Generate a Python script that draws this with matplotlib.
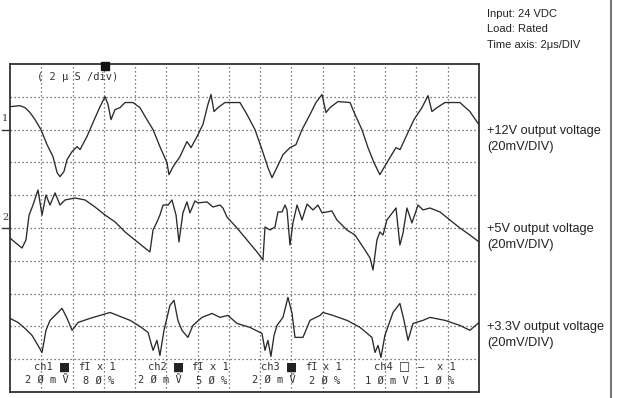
import matplotlib
matplotlib.use("Agg")
import matplotlib.pyplot as plt

# time in microseconds, ripple in mV relative to each channel marker
t_12v = [0, 0.64, 0.96, 1.28, 1.60, 1.98, 2.37, 2.75, 3.01, 3.20, 3.45, 3.65, 3.97, 4.29, 4.48, 4.92,
         5.31, 5.76, 6.08, 6.27, 6.46, 6.72, 7.04, 7.36, 7.87, 8.31, 8.76, 9.15, 9.59, 10.04, 10.17,
         10.43, 10.87, 11.32, 11.58, 11.96, 12.34, 12.66, 12.86, 13.05, 13.30, 13.75, 14.71, 15.16,
         15.67, 16.12, 16.50, 16.76, 17.01, 17.46, 17.91, 18.29, 18.68, 19.19, 19.57, 19.96, 20.21,
         20.47, 20.98, 21.75, 22.07, 22.51, 22.90, 23.28, 23.66, 23.92, 24.30, 24.69, 24.95, 25.39,
         25.84, 26.35, 26.74, 26.99, 27.31, 27.82, 28.78, 29.42, 29.99]
v_12v = [14.0, 14.6, 13.4, 10.4, 6.1, 0, -9.2, -16.5, -26.2, -28.7, -25.6, -18.3, -13.4, -10.4, -12.2,
         -4.3, 4.3, 14.0, 20.1, 15.3, 6.1, 12.2, 13.4, 16.5, 16.5, 13.4, 6.1, 0, -10.4, -20.1, -27.5,
         -22.6, -16.5, -7.3, -11.0, -4.3, 3.1, 15.3, 21.4, 11.0, 13.4, 16.5, 16.5, 9.2, 0, -12.2,
         -23.2, -29.3, -24.4, -15.3, -11.0, -9.2, 0, 9.2, 16.5, 21.4, 10.4, 13.4, 17.1, 16.5, 9.2, 0,
         -11.0, -20.1, -27.5, -23.2, -17.1, -11.0, -12.2, -3.1, 6.1, 13.4, 20.7, 11.0, 13.4, 16.5,
         16.5, 11.0, 3.1]

t_5v = [0, 0.38, 0.77, 1.02, 1.22, 1.47, 1.79, 2.05, 2.30, 2.56, 2.88, 3.20, 3.52, 4.16, 4.80, 5.44,
        6.08, 6.72, 7.36, 7.99, 8.63, 8.95, 9.15, 9.40, 9.59, 9.79, 10.11, 10.36, 10.62, 10.81, 11.06,
        11.32, 11.51, 11.83, 12.02, 12.60, 12.98, 13.43, 13.62, 13.88, 14.52, 15.16, 15.80, 16.18,
        16.31, 16.63, 16.95, 17.14, 17.40, 17.59, 17.72, 17.91, 18.10, 18.36, 18.68, 19.00, 19.38,
        19.70, 19.96, 20.59, 20.91, 21.55, 22.07, 22.58, 23.03, 23.22, 23.47, 23.66, 23.86, 24.11,
        24.50, 24.69, 24.94, 25.14, 25.39, 25.71, 26.10, 26.42, 26.86, 27.50, 28.14, 28.78, 29.42, 30.0]
v_5v = [-6.1, -9.2, -12.2, -7.3, 7.9, 14.0, 23.2, 7.9, 20.1, 14.0, 21.4, 14.0, 17.1, 18.3, 17.1,
        12.8, 7.9, 3.7, -2.4, -7.3, -12.2, -14.6, -1.2, 3.7, 7.9, 14.0, 14.0, 17.1, 7.9, -8.5, 9.2,
        15.9, 9.2, 16.5, 15.3, 15.9, 12.8, 14.0, 12.2, 6.7, 0, -7.3, -14.6, -19.5, 0.6, -1.2, 0.6,
        9.8, 9.8, 14.0, 11.0, -10.4, 3.1, 14.0, 4.9, 14.6, 11.0, 14.0, 9.2, 10.4, 4.9, -1.2, -4.3,
        -11.6, -18.3, -25.6, -7.3, -2.4, -4.3, 4.9, 9.8, 12.2, -10.4, -3.1, 12.2, 3.1, 14.0, 11.0,
        12.2, 9.8, 4.9, 0, -4.3, -8.5]

t_33v = [0, 0.51, 0.96, 1.41, 1.79, 2.05, 2.30, 2.56, 2.88, 3.33, 3.65, 3.97, 4.35, 5.12, 5.76, 6.40,
         7.04, 7.68, 8.31, 8.83, 9.15, 9.40, 9.59, 9.85, 10.23, 10.49, 10.74, 11.00, 11.38, 11.70,
         12.28, 12.92, 13.43, 13.94, 14.52, 15.35, 16.12, 16.31, 16.50, 16.69, 16.89, 17.08, 17.46,
         17.78, 18.04, 18.23, 18.74, 19.19, 19.83, 20.02, 20.66, 21.55, 22.39, 23.15, 23.35, 23.54,
         23.73, 23.98, 24.50, 24.94, 25.20, 25.46, 25.78, 26.42, 26.86, 27.82, 28.78, 29.42, 30.0]
v_33v = [4.9, 2.4, -1.2, -5.5, -11.6, -15.9, -2.4, 3.7, 6.7, 11.0, 4.9, -2.4, 2.4, 4.9, 6.7, 8.5,
         6.1, 3.7, 0, -3.7, -14.6, -8.5, -17.7, -2.4, 12.8, 15.9, 3.7, -2.4, -6.7, 0.6, 5.5, 7.9, 5.5,
         6.7, 1.8, -0.6, -4.3, -14.6, -8.5, -18.3, -5.5, 0.6, 5.5, 17.7, 7.9, -6.7, -6.7, 3.7, 6.7,
         8.5, 6.7, 3.7, -0.6, -6.7, -15.9, -11.6, -18.9, -5.5, 8.5, 14.0, 3.7, -8.5, 1.8, 3.7, 5.5,
         3.7, 0.6, -2.4, 2.4]

offsets = [8, 5, 2]          # channel marker position (div)
mv_per_div = 20
us_per_div = 2
n_hdiv, n_vdiv = 15, 10

bottom_row1 = ["ch1", "\u25a0", "fI", "x 1", "ch2", "\u25a0", "fI", "x 1",
               "ch3", "\u25a0", "fI", "x 1", "ch4", "\u25a1", "\u2013", "x 1"]
bottom_row2 = ["2 \u00d8 m \u1e7c", "8 \u00d8 %", "2 \u00d8 m \u1e7c", "5 \u00d8 %",
               "2 \u00d8 m \u1e7c", "2 \u00d8 %", "1 \u00d8 m V", "1 \u00d8 %"]
notes = ["Input: 24 VDC", "Load: Rated", "Time axis: 2\u03bcs/DIV"]
labels = ["+12V output voltage\n(20mV/DIV)", "+5V output voltage\n(20mV/DIV)",
          "+3.3V output voltage\n(20mV/DIV)"]

W, H = 619, 398
fig = plt.figure(figsize=(W / 100, H / 100), dpi=100)
ax = fig.add_axes([10 / W, 6 / H, 469 / W, 328 / H])
ax.set_xlim(0, n_hdiv * us_per_div)
ax.set_ylim(0, n_vdiv)
ax.set_xticks([])
ax.set_yticks([])
for s in ax.spines.values():
    s.set_color("#333333")
    s.set_linewidth(1.3)

dots = dict(color="#555555", lw=0.9, ls=(0, (1, 2.2)), zorder=1)
for i in range(1, n_hdiv):
    ax.axvline(i * us_per_div, **dots)
for j in range(1, n_vdiv):
    ax.axhline(j, **dots)

for t, v, off in zip([t_12v, t_5v, t_33v], [v_12v, v_5v, v_33v], offsets):
    ax.plot(t, [off + x / mv_per_div for x in v], color="#2a2a2a", lw=0.95, zorder=3)

# scope annotations
mono = dict(family="DejaVu Sans Mono", fontsize=7.5, color="#333333")
ax.text(1.75, 9.6, "( 2 \u03bc S /div)", va="center", ha="left", **mono)
ax.plot([6.1], [9.95], marker="s", ms=5.5, color="#111111", clip_on=False, zorder=5)

for k in range(4):
    x0 = 1.55 + k * 7.25
    r = bottom_row1[4 * k: 4 * k + 4]
    ax.text(x0, 0.76, r[0], va="center", ha="left", **mono)
    ax.text(x0 + 1.6, 0.76, r[1], va="center", ha="left", family="DejaVu Sans", fontsize=8.5, color="#222222")
    ax.text(x0 + 2.8, 0.76, r[2], va="center", ha="left", **mono)
    ax.text(x0 + 4.0, 0.76, r[3], va="center", ha="left", **mono)
    ax.text(x0 - 0.6, 0.33, bottom_row2[2 * k], va="center", ha="left", **mono)
    ax.text(x0 + 3.1, 0.33, bottom_row2[2 * k + 1], va="center", ha="left", **mono)

for off, name in zip(offsets[:2], ["1", "2"]):
    ax.plot([-0.5, 0], [off, off], color="#333333", lw=1.0, clip_on=False)
    ax.text(-0.3, off + 0.33, name, va="center", ha="center", fontsize=7,
            family="DejaVu Serif", color="#333333")

for i, s in enumerate(notes):
    fig.text(487 / W, 1 - (14 + 15.5 * i) / H, s, va="center", ha="left",
             family="Liberation Sans", fontsize=8, color="#222222")
for y, s in zip([139, 237, 335], labels):
    fig.text(487 / W, 1 - y / H, s, va="center", ha="left", family="Liberation Sans",
             fontsize=9.2, color="#222222", linespacing=1.4)

fig.add_artist(plt.Line2D([611 / W, 611 / W], [0, 1], color="#777777", lw=1.5))

fig.savefig("out.png", dpi=100)
